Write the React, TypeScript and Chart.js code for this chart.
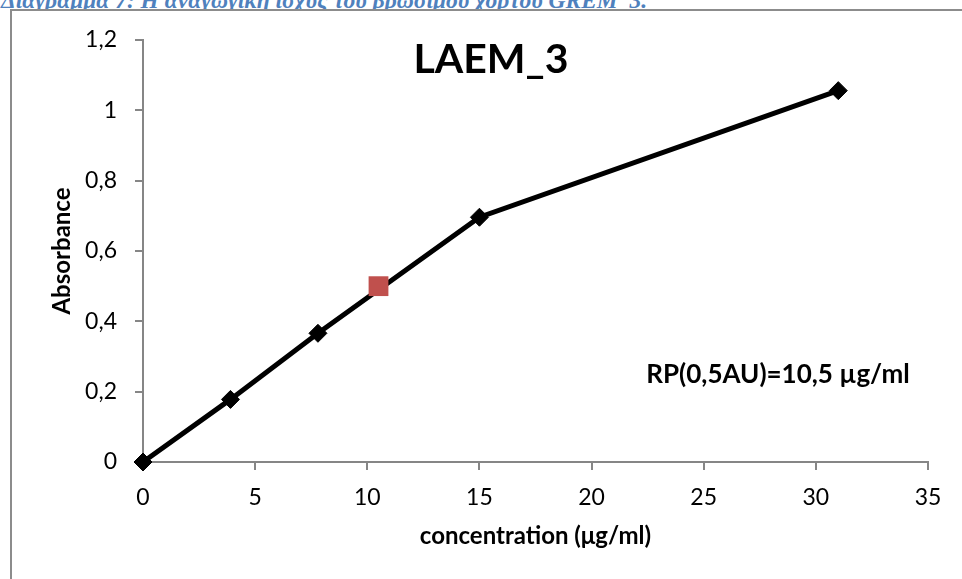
import React, { useEffect, useRef } from "react";
import { Chart, registerables } from "chart.js";

Chart.register(...registerables);

const headerText = "Διάγραμμα 7: Η αναγωγική ισχύς του βρώσιμου χόρτου GREM_3.";
const chartTitle = "LAEM_3";
const annotationText = "RP(0,5AU)=10,5 µg/ml";
const xAxisTitle = "concentration (μg/ml)";
const yAxisTitle = "Absorbance";

const concentration = [0, 3.9, 7.8, 15, 31];
const absorbance = [0, 0.178, 0.366, 0.696, 1.056];
const rpConcentration = [10.5];
const rpAbsorbance = [0.5];

const FONT = "Lato, 'Open Sans', sans-serif";

const textPlugin = {
  id: "textPlugin",
  afterDraw(chart: any) {
    const { ctx, chartArea } = chart;
    ctx.save();
    ctx.fillStyle = "#000";
    ctx.textBaseline = "middle";
    ctx.textAlign = "center";
    ctx.font = `bold 41px ${FONT}`;
    ctx.fillText(chartTitle, chartArea.left + 348, chartArea.top + 20);
    ctx.font = `bold 26px ${FONT}`;
    ctx.fillText(annotationText, chartArea.left + 635, chartArea.top + 335);
    ctx.restore();
  },
};

export default function App() {
  const ref = useRef<HTMLCanvasElement | null>(null);

  useEffect(() => {
    if (!ref.current) return;
    const fmt = (v: any) => String(Math.round(Number(v) * 10) / 10).replace(".", ",");
    const chart = new Chart(ref.current, {
      type: "scatter",
      data: {
        datasets: [
          {
            data: rpConcentration.map((x, i) => ({ x, y: rpAbsorbance[i] })),
            pointStyle: "rect",
            pointRadius: 14,
            pointHoverRadius: 14,
            backgroundColor: "#C0504D",
            borderColor: "#C0504D",
            borderWidth: 0,
            showLine: false,
            clip: false,
          },
          {
            data: concentration.map((x, i) => ({ x, y: absorbance[i] })),
            showLine: true,
            borderColor: "#000",
            borderWidth: 5,
            pointStyle: "rectRot",
            pointRadius: 9,
            pointHoverRadius: 9,
            pointBackgroundColor: "#000",
            pointBorderColor: "#000",
            pointBorderWidth: 1,
            clip: false,
          },
        ],
      },
      options: {
        animation: false,
        responsive: false,
        devicePixelRatio: 1,
        layout: { padding: { left: 0, top: 40, right: 34, bottom: 0 } },
        plugins: { legend: { display: false }, tooltip: { enabled: false }, title: { display: false } },
        scales: {
          x: {
            type: "linear",
            min: 0,
            max: 35,
            ticks: { stepSize: 5, color: "#000", padding: 14, font: { family: FONT, size: 23 }, callback: fmt },
            grid: { display: true, drawOnChartArea: false, drawTicks: true, tickLength: 8, color: "#868686", lineWidth: 2 },
            border: { display: true, color: "#868686", width: 2 },
            title: {
              display: true,
              text: xAxisTitle,
              color: "#000",
              font: { family: FONT, size: 24, weight: "bold" },
              padding: { top: 0, bottom: 28 },
            },
            afterFit(scale: any) {
              scale.height = 117;
            },
          },
          y: {
            type: "linear",
            min: 0,
            max: 1.2,
            ticks: { stepSize: 0.2, color: "#000", padding: 18, font: { family: FONT, size: 23 }, callback: fmt },
            grid: { display: true, drawOnChartArea: false, drawTicks: true, tickLength: 8, color: "#868686", lineWidth: 2 },
            border: { display: true, color: "#868686", width: 2 },
            title: {
              display: true,
              text: yAxisTitle,
              color: "#000",
              font: { family: FONT, size: 24, weight: "bold" },
              padding: { top: 48, bottom: 0 },
            },
            afterFit(scale: any) {
              scale.width = 143;
            },
          },
        },
      },
      plugins: [textPlugin],
    });
    return () => chart.destroy();
  }, []);

  return (
    <div>
      <div
        style={{
          position: "fixed",
          left: 0,
          top: 0,
          width: 962,
          height: 9,
          overflow: "hidden",
          background: "#fff",
        }}
      >
        <div
          style={{
            position: "absolute",
            left: 1,
            top: -12,
            whiteSpace: "nowrap",
            fontFamily: "'Liberation Serif', 'DejaVu Serif', serif",
            fontStyle: "italic",
            fontWeight: "bold",
            fontSize: 23.5,
            lineHeight: "24px",
            color: "#4F81BD",
          }}
        >
          {headerText}
        </div>
      </div>
      <div
        style={{
          position: "fixed",
          left: 10,
          top: 9,
          width: 1000,
          height: 1000,
          border: "2px solid #8C8C8C",
          boxSizing: "border-box",
        }}
      />
      <canvas
        ref={ref}
        width={962}
        height={579}
        style={{ position: "fixed", left: 0, top: 0, width: 962, height: 579 }}
      />
    </div>
  );
}
